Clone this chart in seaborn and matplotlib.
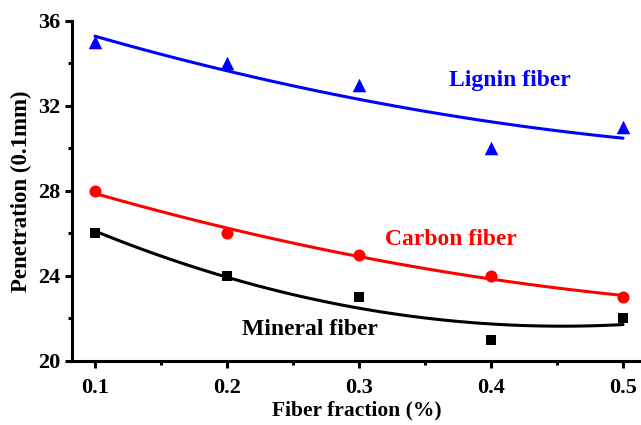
import numpy as np
import pandas as pd
import matplotlib
matplotlib.use("Agg")
import matplotlib.pyplot as plt
from matplotlib.ticker import MultipleLocator, FormatStrFormatter
import seaborn as sns

fraction = [0.1, 0.2, 0.3, 0.4, 0.5]
lignin = [35, 34, 33, 30, 31]
carbon = [28, 26, 25, 24, 23]
mineral = [26, 24, 23, 21, 22]

sns.set_style("ticks", {"axes.edgecolor": "black", "xtick.color": "black",
                        "ytick.color": "black", "text.color": "black",
                        "axes.labelcolor": "black"})
plt.rcParams["font.family"] = ["Liberation Serif", "DejaVu Serif"]
plt.rcParams["font.weight"] = "bold"

fig = plt.figure(figsize=(6.41, 4.25), dpi=100)
ax = fig.add_axes([0.1123, 0.1506, 0.8877, 0.80])

# quadratic trend fitted through each fiber series
series = [
    (lignin, "#0000ff", "^", 95),
    (carbon, "#ff0000", "o", 75),
    (mineral, "#000000", "s", 48),
]
for values, color, marker, size in series:
    df = pd.DataFrame({"x": fraction, "y": values})
    sns.regplot(data=df, x="x", y="y", order=2, ci=None, ax=ax,
                marker=marker, color=color,
                scatter_kws={"s": size, "linewidths": 0, "alpha": 1, "zorder": 3},
                line_kws={"linewidth": 2.2, "zorder": 2})

ax.set_xlim(0.0826, 0.5136)
ax.set_ylim(20, 36)
ax.xaxis.set_major_locator(MultipleLocator(0.1))
ax.xaxis.set_minor_locator(MultipleLocator(0.05))
ax.yaxis.set_major_locator(MultipleLocator(4))
ax.yaxis.set_minor_locator(MultipleLocator(2))
ax.xaxis.set_major_formatter(FormatStrFormatter("%.1f"))

for side in ("top", "right"):
    ax.spines[side].set_visible(False)
for side in ("left", "bottom"):
    ax.spines[side].set_linewidth(2.2)
    ax.spines[side].set_color("black")
ax.tick_params(which="major", direction="out", length=5, width=2.2,
               labelsize=16, colors="black")
ax.tick_params(which="minor", direction="out", length=3, width=2.2, colors="black")
ax.tick_params(axis="x", which="major", pad=7)
for lab in ax.get_xticklabels() + ax.get_yticklabels():
    lab.set_fontweight("bold")

ax.set_xlabel("Fiber fraction (%)", fontsize=15.5, fontweight="bold",
              labelpad=2, color="black")
ax.set_ylabel("Penetration (0.1mm)", fontsize=16.5, fontweight="bold",
              labelpad=4, color="black")

ax.text(0.414, 33.2, "Lignin fiber", color="#0000ff", fontsize=17,
        fontweight="bold", ha="center", va="center")
ax.text(0.370, 25.74, "Carbon fiber", color="#ff0000", fontsize=17,
        fontweight="bold", ha="center", va="center")
ax.text(0.263, 21.46, "Mineral fiber", color="#000000", fontsize=17,
        fontweight="bold", ha="center", va="center")

fig.savefig("out.png", dpi=100)
